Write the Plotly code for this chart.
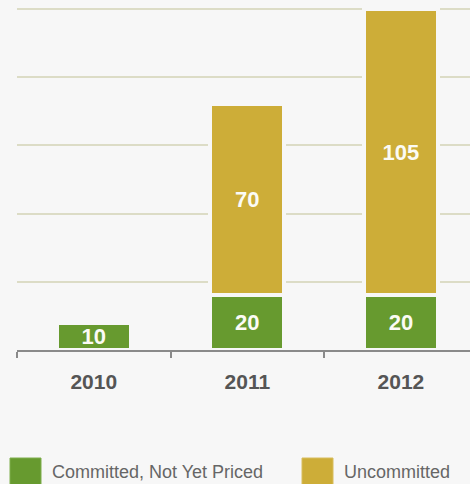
import plotly.graph_objects as go

# Stacked funding status by year
years = ["2010", "2011", "2012"]
committed = [10, 20, 20]
uncommitted = [0, 70, 105]
series_names = ["Committed, Not Yet Priced", "Uncommitted"]
series_colors = ["#679a2f", "#cdad38"]
swatch_edges = ["#7fae4c", "#d8bd5c"]

BG = "#f7f7f7"
W, H = 470, 484
ML, MB = 17, 134
plot_w, plot_h = W - ML, H - MB


def labels(vals):
    return [str(v) if v else "" for v in vals]


fig = go.Figure()
for name, vals, color in zip(series_names, [committed, uncommitted], series_colors):
    fig.add_trace(go.Bar(
        x=years, y=vals, name=name,
        marker=dict(color=color, line=dict(color=BG, width=4)),
        text=labels(vals), textposition="inside", insidetextanchor="middle",
        textangle=0, constraintext="none",
        textfont=dict(family="Arial, Liberation Sans", size=22, color="#fbfbf5", weight="bold"),
        showlegend=False, hoverinfo="skip",
    ))

# Legend drawn as large swatches with captions beneath the plot
def px_x(p):
    return (p - ML) / plot_w


def px_y(p):
    return (plot_h - p) / plot_h


legend_items = [(10, 41, 50), (302, 333, 342)]
shapes, annotations = [], []
for (x0, x1, tx), name, color, edge in zip(legend_items, series_names, series_colors, swatch_edges):
    shapes.append(dict(type="rect", xref="paper", yref="paper",
                       x0=px_x(x0), x1=px_x(x1), y0=px_y(458), y1=px_y(492),
                       fillcolor=color, line=dict(color=edge, width=1), layer="above"))
    annotations.append(dict(xref="paper", yref="paper", x=px_x(tx), y=px_y(472),
                            xanchor="left", yanchor="middle", showarrow=False,
                            text=name, font=dict(family="Arial, Liberation Sans", size=18, color="#666666")))

fig.update_layout(
    barmode="stack", bargap=0.518,
    width=W, height=H,
    margin=dict(l=ML, r=0, t=0, b=MB),
    paper_bgcolor=BG, plot_bgcolor=BG,
    shapes=shapes, annotations=annotations,
)
fig.update_xaxes(
    type="category", range=[-0.5, 2.45],
    showline=True, linecolor="#8a8a8a", linewidth=2,
    ticks="outside", tickson="boundaries", ticklen=6, tickwidth=2, tickcolor="#8a8a8a",
    tickfont=dict(family="Arial, Liberation Sans", size=21, color="#555555", weight="bold"),
    ticklabelstandoff=12,
    showgrid=False, fixedrange=True,
)
fig.update_yaxes(
    range=[0, 128.3], dtick=25, tick0=0,
    showgrid=True, gridcolor="#dcdcc6", gridwidth=2,
    showticklabels=False, zeroline=False, showline=False, ticks="",
    fixedrange=True,
)

fig.write_html("out.html", config={"displayModeBar": False})
